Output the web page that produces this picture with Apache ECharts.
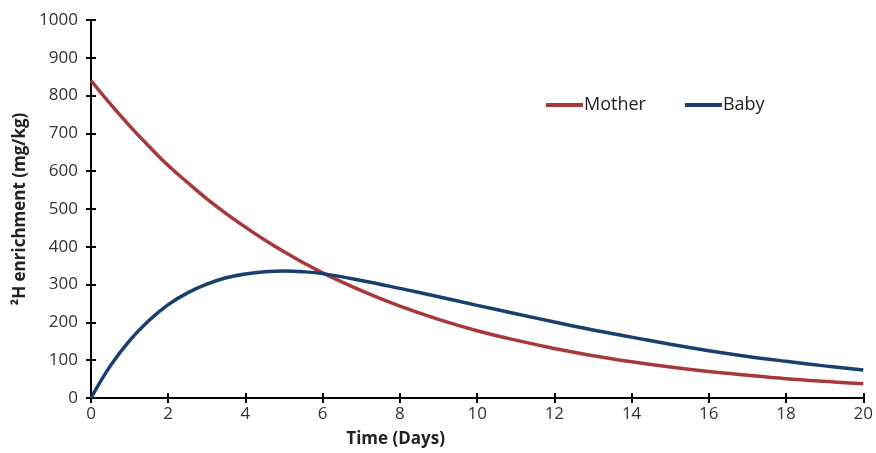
<!DOCTYPE html>
<html>
<head>
<meta charset="utf-8">
<script src="https://cdn.jsdelivr.net/npm/echarts@6/dist/echarts.min.js"></script>
<style>html,body{margin:0;padding:0;background:#fff}#c{width:876px;height:453px}</style>
</head>
<body>
<div id="c"></div>
<script>
const days   = [0, 0.5, 1, 1.5, 2, 2.5, 3, 3.5, 4, 4.5, 5, 5.5, 6, 7, 8, 9, 10, 11, 12, 13, 14, 15, 16, 17, 18, 19, 20];
const mother = [840, 778, 720, 666, 615, 570, 527, 488, 452, 418, 387, 358, 331, 284, 243, 208, 178, 153, 131, 112, 96, 82, 70, 60, 51, 44, 38];
const baby   = [0, 85, 152, 205, 247, 278, 301, 318, 328, 334, 336, 334, 329, 311, 290, 268, 245, 223, 201, 180, 161, 142, 125, 110, 97, 85, 74];
const xTicks = {min: 0, max: 20, interval: 2};
const yTicks = {min: 0, max: 1000, interval: 100};

const font = '"Open Sans", sans-serif';
const chart = echarts.init(document.getElementById('c'));
const axisLine = {lineStyle: {color: '#000', width: 2}};
chart.setOption({
  animation: false,
  grid: {left: 91, right: 12, top: 20, bottom: 52},
  legend: {
    left: 541, top: 91, itemWidth: 37, itemHeight: 4, itemGap: 39,
    icon: 'rect',
    textStyle: {fontFamily: font, fontSize: 18, color: '#222', padding: [0,0,0,-4]},
    data: ['Mother', 'Baby']
  },
  xAxis: [{
    type: 'value', min: xTicks.min, max: xTicks.max, interval: xTicks.interval,
    name: 'Time (Days)', nameLocation: 'middle', nameGap: 33,
    nameTextStyle: {fontFamily: font, fontSize: 17, fontWeight: 'bold', color: '#222', padding: [0, 163, 0, 0]},
    axisLine: axisLine,
    axisTick: {show: true, length: 5, lineStyle: {color: '#000', width: 2}},
    axisLabel: {fontFamily: font, fontSize: 17, color: '#333', margin: 8},
    splitLine: {show: false}
  }, {
    type: 'value', min: xTicks.min, max: xTicks.max, interval: xTicks.interval,
    position: 'bottom', axisLine: {show: false},
    axisTick: {show: true, inside: true, length: 5, lineStyle: {color: '#000', width: 2}},
    axisLabel: {show: false}, splitLine: {show: false}
  }],
  yAxis: [{
    type: 'value', min: yTicks.min, max: yTicks.max, interval: yTicks.interval,
    name: '²H enrichment (mg/kg)', nameLocation: 'middle', nameGap: 62,
    nameTextStyle: {fontFamily: font, fontSize: 17, fontWeight: 'bold', color: '#222'},
    axisLine: Object.assign({show: true}, axisLine),
    axisTick: {show: true, length: 5, lineStyle: {color: '#000', width: 2}},
    axisLabel: {fontFamily: font, fontSize: 17, color: '#333', margin: 13, formatter: v => String(v)},
    splitLine: {show: false}
  }, {
    type: 'value', min: yTicks.min, max: yTicks.max, interval: yTicks.interval,
    position: 'left', axisLine: {show: false},
    axisTick: {show: true, inside: true, length: 5, lineStyle: {color: '#000', width: 2}},
    axisLabel: {show: false}, splitLine: {show: false}
  }],
  series: [{
    name: 'Mother', type: 'line', smooth: 0.4, symbol: 'none',
    lineStyle: {width: 3.5, color: '#a8393a'}, itemStyle: {color: '#a8393a'},
    data: days.map((d, i) => [d, mother[i]])
  }, {
    name: 'Baby', type: 'line', smooth: 0.4, symbol: 'none',
    lineStyle: {width: 3.5, color: '#183f6e'}, itemStyle: {color: '#183f6e'},
    data: days.map((d, i) => [d, baby[i]])
  }]
});
</script>
</body>
</html>
